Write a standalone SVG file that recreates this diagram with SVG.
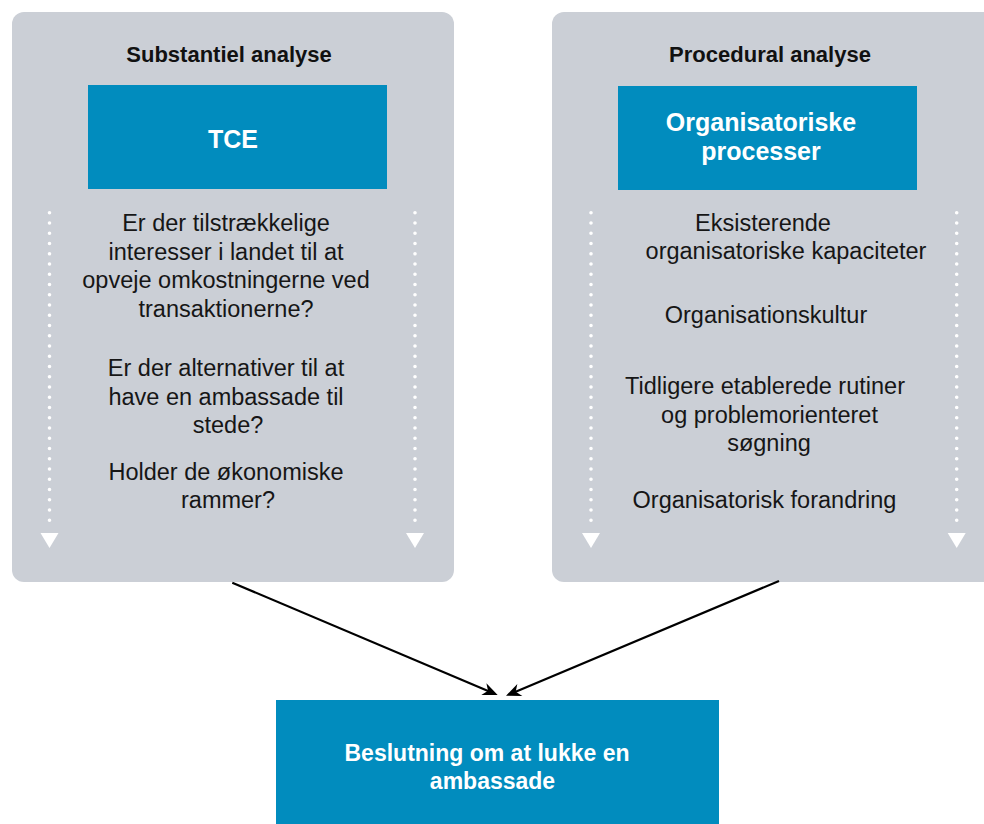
<svg xmlns="http://www.w3.org/2000/svg" width="984" height="824" viewBox="0 0 984 824">
<style>
  .panel { fill: #cbcfd6; }
  .blue { fill: #018cbe; }
  .title { font-family: "Liberation Sans", Arial, sans-serif; font-weight: bold; font-size: 22px; fill: #111; text-anchor: middle; }
  .head { font-family: "Liberation Sans", Arial, sans-serif; font-weight: bold; font-size: 25px; fill: #fff; text-anchor: middle; }
  .body { font-family: "Liberation Sans", Arial, sans-serif; font-size: 23.5px; fill: #161616; text-anchor: middle; }
  .res { font-family: "Liberation Sans", Arial, sans-serif; font-weight: bold; font-size: 23px; fill: #fff; text-anchor: middle; }
  .dots { stroke: #fff; stroke-width: 3.6; stroke-linecap: round; stroke-dasharray: 0 10.25; fill: none; }
  .tri { fill: #fff; }
  .conn { stroke: #000; stroke-width: 2.2; fill: none; }
</style>
<defs>
  <marker id="ah" viewBox="-12 -8 20 16" markerWidth="20" markerHeight="16" refX="0" refY="0" orient="auto" markerUnits="userSpaceOnUse">
    <path d="M4,0 L-11,-6.5 L-6.5,0 L-11,6.5 Z" fill="#000"/>
  </marker>
</defs>
<rect width="984" height="824" fill="#fff"/>

<g id="panel-substantiel">
  <rect class="panel" x="12" y="12" width="442" height="570" rx="12"/>
  <text class="title" x="229" y="62">Substantiel analyse</text>
  <line class="dots" x1="49.5" y1="212.7" x2="49.5" y2="530"/>
  <polygon class="tri" points="40.5,533 58.5,533 49.5,548"/>
  <line class="dots" x1="415" y1="212.7" x2="415" y2="530"/>
  <polygon class="tri" points="406,533 424,533 415,548"/>
</g>
<g id="node-tce">
  <rect class="blue" x="88" y="85" width="299" height="104"/>
  <text class="head" x="233" y="148">TCE</text>
</g>
<g id="text-substantiel">
  <text class="body" x="226" y="231">Er der tilstrækkelige</text>
  <text class="body" x="226" y="259.5">interesser i landet til at</text>
  <text class="body" x="226" y="288">opveje omkostningerne ved</text>
  <text class="body" x="226" y="316.5">transaktionerne?</text>
  <text class="body" x="226" y="376">Er der alternativer til at</text>
  <text class="body" x="226" y="404.5">have en ambassade til</text>
  <text class="body" x="228" y="433">stede?</text>
  <text class="body" x="226" y="479.5">Holder de økonomiske</text>
  <text class="body" x="228" y="508">rammer?</text>
</g>

<g id="panel-procedural">
  <rect class="panel" x="552" y="12" width="446" height="570" rx="12"/>
  <text class="title" x="770" y="62">Procedural analyse</text>
  <line class="dots" x1="591" y1="212.7" x2="591" y2="530"/>
  <polygon class="tri" points="582,533 600,533 591,548"/>
  <line class="dots" x1="956.7" y1="212.7" x2="956.7" y2="530"/>
  <polygon class="tri" points="947.7,533 965.7,533 956.7,548"/>
</g>
<g id="node-organisatoriske">
  <rect class="blue" x="618" y="86" width="299" height="104"/>
  <text class="head" x="761" y="131">Organisatoriske</text>
  <text class="head" x="761" y="160">processer</text>
</g>
<g id="text-procedural">
  <text class="body" x="763" y="231">Eksisterende</text>
  <text class="body" x="786" y="259">organisatoriske kapaciteter</text>
  <text class="body" x="766" y="323">Organisationskultur</text>
  <text class="body" x="765" y="394">Tidligere etablerede rutiner</text>
  <text class="body" x="769.5" y="422.5">og problemorienteret</text>
  <text class="body" x="769" y="451">søgning</text>
  <text class="body" x="764.5" y="508">Organisatorisk forandring</text>
</g>

<g id="node-beslutning">
  <rect class="blue" x="276" y="700" width="443" height="130"/>
  <text class="res" x="487" y="761">Beslutning om at lukke en</text>
  <text class="res" x="492.5" y="789">ambassade</text>
</g>

<g id="connectors">
  <line class="conn" x1="232.3" y1="582.7" x2="494" y2="693.4" marker-end="url(#ah)"/>
  <line class="conn" x1="779" y1="581" x2="509.7" y2="694.2" marker-end="url(#ah)"/>
</g>
</svg>
